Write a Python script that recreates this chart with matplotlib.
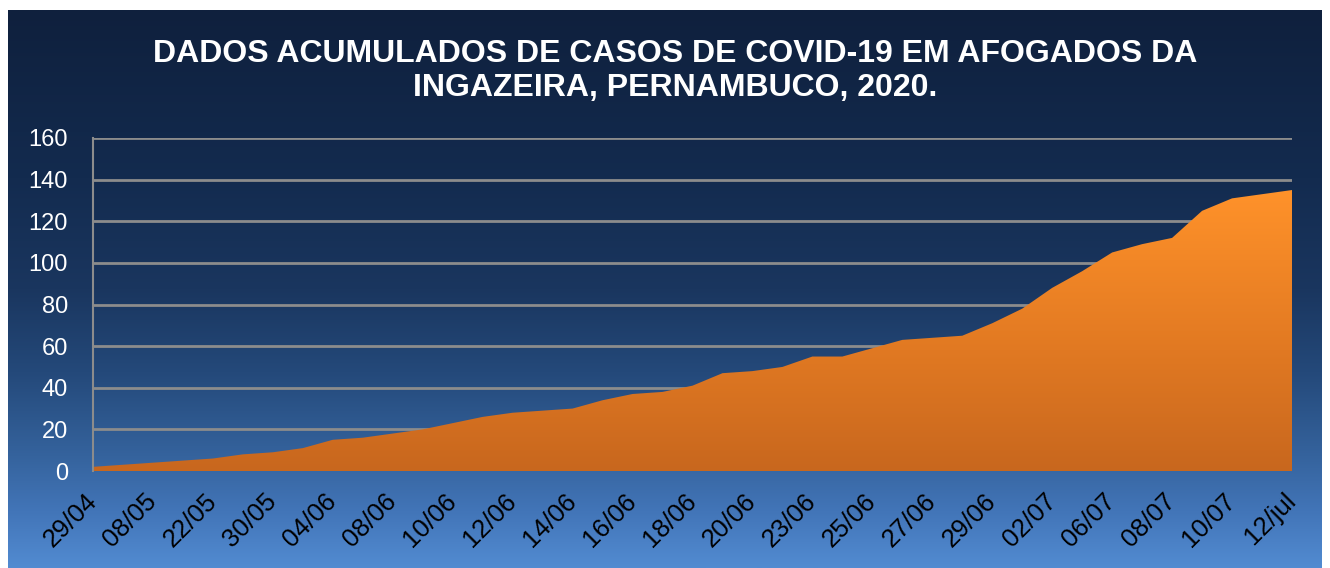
import matplotlib
matplotlib.use('Agg')
import matplotlib.pyplot as plt
import numpy as np
from matplotlib.colors import LinearSegmentedColormap
from matplotlib.patches import Polygon
from matplotlib.transforms import ScaledTranslation

# casos acumulados, um ponto por dia de boletim
casos = [2, 3, 4, 5, 6, 8, 9, 11, 15, 16, 18, 20, 23, 26, 28, 29, 30, 34, 37, 38,
         41, 47, 48, 50, 55, 55, 59, 63, 64, 65, 71, 78, 88, 96, 105, 109, 112, 125,
         131, 133, 135]
rotulos = ['29/04', '08/05', '22/05', '30/05', '04/06', '08/06', '10/06', '12/06',
           '14/06', '16/06', '18/06', '20/06', '23/06', '25/06', '27/06', '29/06',
           '02/07', '06/07', '08/07', '10/07', '12/jul']
titulo = 'DADOS ACUMULADOS DE CASOS DE COVID-19 EM AFOGADOS DA\nINGAZEIRA, PERNAMBUCO, 2020.'

plt.rcParams['font.family'] = ['Liberation Sans', 'DejaVu Sans']

W, H = 1330, 568
fig = plt.figure(figsize=(W / 100, H / 100), dpi=100)
fig.patch.set_facecolor('white')

# fundo em degradê azul
fundo = LinearSegmentedColormap.from_list('fundo', [
    (0.0, '#0F203D'), (0.3, '#132B4F'), (0.5, '#1A365F'), (0.65, '#24497A'),
    (0.8, '#35639D'), (0.9, '#4275B8'), (1.0, '#528BD1')])
bg = fig.add_axes([8 / W, 0, (1322 - 8) / W, (H - 10) / H], zorder=-10)
bg.axis('off')
bg.imshow(np.linspace(0, 1, 256).reshape(-1, 1), cmap=fundo, aspect='auto',
          extent=[0, 1, 0, 1])

ax = fig.add_axes([93 / W, 1 - 471 / H, (1292 - 93) / W, (471 - 138) / H])
ax.patch.set_alpha(0)

x = np.arange(len(casos))
verts = [(0, 0)] + list(zip(x, casos)) + [(x[-1], 0)]

# sombra
sombra = Polygon(verts, closed=True, facecolor='#2A2A20', edgecolor='none', alpha=0.6,
                 transform=ax.transData + ScaledTranslation(3 / 100, -3 / 100, fig.dpi_scale_trans),
                 zorder=1.5)
ax.add_patch(sombra)

area = Polygon(verts, closed=True, facecolor='none', edgecolor='none', zorder=2)
ax.add_patch(area)
laranja = LinearSegmentedColormap.from_list('laranja', ['#C8671E', '#E57C23', '#FF922A'])
im = ax.imshow(np.linspace(0, 1, 256).reshape(-1, 1), cmap=laranja, origin='lower',
               aspect='auto', extent=[0, x[-1], 0, max(casos)], zorder=2)
im.set_clip_path(area)

ax.set_xlim(0, x[-1])
ax.set_ylim(0, 160)
ax.set_yticks(range(0, 161, 20))
ax.yaxis.grid(True, color='#8C8C8C', lw=2)
ax.set_axisbelow(True)
for s in ['top', 'right', 'bottom']:
    ax.spines[s].set_visible(False)
ax.spines['left'].set_color('#8C8C8C')
ax.spines['left'].set_linewidth(1.5)

ax.set_xticks(x[::2])
ax.set_xticklabels(rotulos, rotation=45, ha='right', va='center', rotation_mode='anchor')
ax.tick_params(axis='x', length=0, pad=19, labelsize=18.5, labelcolor='black')
ax.tick_params(axis='y', length=0, pad=18, labelsize=17, labelcolor='white')

fig.text(0.508, 1 - 71 / H, titulo, ha='center', va='center', color='white',
         fontsize=23, fontweight='bold', linespacing=1.2)

fig.savefig('out.png', dpi=100)
